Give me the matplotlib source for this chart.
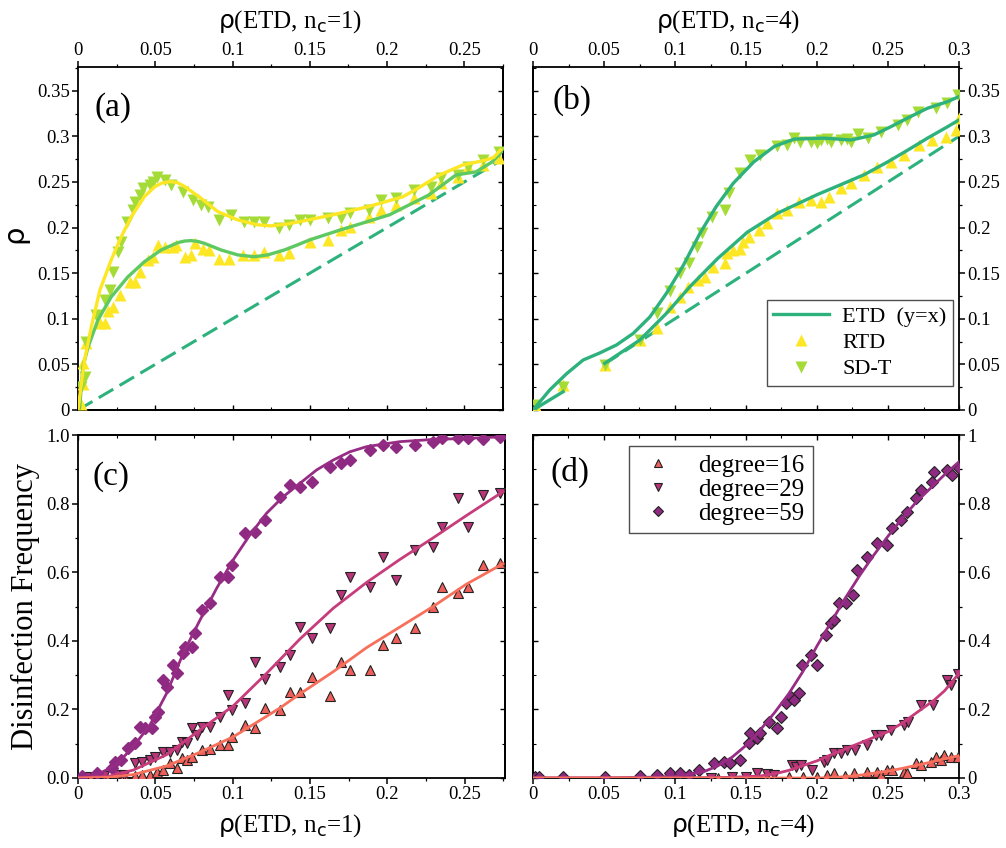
import matplotlib
matplotlib.use('Agg')
import matplotlib.pyplot as plt
from matplotlib.lines import Line2D
from matplotlib.ticker import MultipleLocator, FuncFormatter, NullFormatter

# ---------------- Panel (a): n_c = 1 ----------------
a_sdt_x = [0.0022, 0.0043, 0.0054, 0.0118, 0.0172, 0.0205, 0.0226, 0.0258, 0.028, 0.0319, 0.0355, 0.037,
           0.040, 0.042, 0.0463, 0.0485, 0.0513, 0.056, 0.0603, 0.0678, 0.0743, 0.0797, 0.084, 0.0915,
           0.099, 0.1077, 0.114, 0.1206, 0.130, 0.1367, 0.1434, 0.1498, 0.1617, 0.170, 0.176, 0.1886,
           0.196, 0.2058, 0.2176, 0.2284, 0.2348, 0.2456, 0.2521, 0.2618, 0.2726]
a_sdt_y = [0.0256, 0.0365, 0.075, 0.104, 0.1206, 0.1316, 0.1517, 0.1736, 0.1846, 0.2065, 0.219, 0.2284,
           0.2357, 0.243, 0.2467, 0.2504, 0.2558, 0.252, 0.2467, 0.2394, 0.230, 0.2248, 0.223, 0.2083,
           0.2138, 0.2065, 0.2065, 0.2065, 0.1992, 0.2028, 0.2083, 0.2083, 0.210, 0.210, 0.2156, 0.219,
           0.230, 0.232, 0.241, 0.245, 0.254, 0.2577, 0.2668, 0.274, 0.283]
a_rtd_x = [0.002, 0.0032, 0.0034, 0.0054, 0.014, 0.0172, 0.0194, 0.0226, 0.027, 0.0334, 0.0366, 0.040,
           0.045, 0.0485, 0.0517, 0.056, 0.0614, 0.0635, 0.069, 0.073, 0.0754, 0.0807, 0.085, 0.0915,
           0.098, 0.1066, 0.114, 0.1206, 0.130, 0.1367, 0.1498, 0.1617, 0.170, 0.176, 0.1886, 0.196,
           0.2058, 0.2176, 0.2284, 0.2348, 0.2456, 0.2521, 0.2618, 0.2726]
a_rtd_y = [0.007, 0.051, 0.028, 0.073, 0.095, 0.095, 0.108, 0.113, 0.126, 0.1407, 0.1407, 0.1517,
           0.1645, 0.168, 0.181, 0.179, 0.179, 0.181, 0.168, 0.170, 0.1827, 0.177, 0.1754, 0.166,
           0.166, 0.170, 0.170, 0.1736, 0.170, 0.1718, 0.1846, 0.1864, 0.197, 0.201, 0.212, 0.219,
           0.2248, 0.232, 0.2376, 0.2485, 0.2558, 0.2668, 0.2686, 0.276]
a_sdt_fit_x = [0, 0.0022, 0.0043, 0.0086, 0.0142, 0.0215, 0.028, 0.0345, 0.043, 0.0495, 0.0538, 0.0592,
               0.064, 0.069, 0.0797, 0.0904, 0.1034, 0.1163, 0.125, 0.1357, 0.148, 0.165, 0.187, 0.21,
               0.22, 0.234, 0.249, 0.264, 0.269, 0.2735]
a_sdt_fit_y = [0, 0.029, 0.055, 0.091, 0.1316, 0.1645, 0.19, 0.212, 0.234, 0.2445, 0.2485, 0.2504,
               0.2495, 0.245, 0.232, 0.2175, 0.2083, 0.203, 0.2018, 0.204, 0.208, 0.214, 0.2226, 0.2336,
               0.243, 0.2577, 0.2686, 0.274, 0.277, 0.285]
a_rtd_fit_x = [0, 0.001, 0.0032, 0.0065, 0.0129, 0.0215, 0.0323, 0.043, 0.0538, 0.0646, 0.069, 0.0732,
               0.0775, 0.0818, 0.0926, 0.1034, 0.1141, 0.1227, 0.1335, 0.142, 0.1498, 0.169, 0.2016,
               0.227, 0.2446, 0.2575, 0.268, 0.274]
a_rtd_fit_y = [0, 0.002, 0.0475, 0.069, 0.0987, 0.124, 0.146, 0.1626, 0.1754, 0.1835, 0.1852, 0.1857,
               0.1848, 0.1827, 0.1754, 0.170, 0.168, 0.170, 0.1754, 0.181, 0.1864, 0.197, 0.214,
               0.2357, 0.2577, 0.261, 0.272, 0.283]
a_etd = [0.0, 0.272]

# ---------------- Panel (b): n_c = 4 ----------------
b_sdt_x = [0.0024, 0.0214, 0.0508, 0.0755, 0.0873, 0.0967, 0.1037, 0.1096, 0.1155, 0.119, 0.126, 0.1355,
           0.1378, 0.146, 0.153, 0.16, 0.172, 0.179, 0.184, 0.188, 0.1955, 0.2, 0.2025, 0.207, 0.21,
           0.2167, 0.2214, 0.224, 0.2289, 0.236, 0.2449, 0.2567, 0.2637, 0.2708, 0.2837, 0.2919, 0.299]
b_sdt_y = [0.0055, 0.0256, 0.049, 0.0768, 0.106, 0.13, 0.15, 0.161, 0.179, 0.194, 0.212, 0.219,
           0.2376, 0.2595, 0.274, 0.2796, 0.289, 0.2906, 0.298, 0.294, 0.294, 0.2925, 0.296, 0.297, 0.294,
           0.296, 0.297, 0.2935, 0.303, 0.298, 0.305, 0.3125, 0.318, 0.327, 0.331, 0.336, 0.345]
b_rtd_x = [0.0024, 0.0212, 0.0506, 0.0753, 0.087, 0.0965, 0.1035, 0.1094, 0.1164, 0.1211, 0.127, 0.1353,
           0.1364, 0.141, 0.146, 0.148, 0.152, 0.159, 0.165, 0.172, 0.179, 0.1872, 0.1955, 0.2025,
           0.2084, 0.2167, 0.2237, 0.2331, 0.2425, 0.2519, 0.2614, 0.2719, 0.2813, 0.2907, 0.2978, 0.3]
b_rtd_y = [0.0037, 0.0274, 0.049, 0.077, 0.0895, 0.113, 0.124, 0.135, 0.1425, 0.146, 0.157, 0.161,
           0.1718, 0.1754, 0.177, 0.1846, 0.190, 0.197, 0.2047, 0.2156, 0.219, 0.2284, 0.230, 0.2284,
           0.234, 0.243, 0.2485, 0.2577, 0.2668, 0.272, 0.2796, 0.2906, 0.296, 0.2997, 0.307, 0.32]
b_sdt_fit_x = [0, 0.0118, 0.0238, 0.0353, 0.047, 0.0588, 0.0706, 0.0823, 0.094, 0.106, 0.1176, 0.129,
               0.141, 0.1555, 0.17, 0.184, 0.205, 0.2242, 0.240, 0.2522, 0.2637, 0.2778, 0.2919, 0.300]
b_sdt_fit_y = [0, 0.022, 0.040, 0.0548, 0.0625, 0.0713, 0.084, 0.102, 0.128, 0.159, 0.1937, 0.223,
               0.2485, 0.272, 0.289, 0.297, 0.298, 0.296, 0.3015, 0.3107, 0.320, 0.3308, 0.338, 0.3436]
b_rtd_fit1_x = [0, 0.0212]
b_rtd_fit1_y = [0, 0.020]
b_rtd_fit2_x = [0.0506, 0.0753, 0.094, 0.111, 0.13, 0.151, 0.172, 0.2, 0.2167, 0.2333, 0.2498, 0.2637,
                0.2778, 0.2919, 0.300]
b_rtd_fit2_y = [0.0512, 0.0768, 0.106, 0.136, 0.166, 0.195, 0.2156, 0.236, 0.247, 0.258, 0.272,
                0.2847, 0.298, 0.3105, 0.318]
b_etd = [0.05, 0.3]

# ---------------- Panel (c): n_c = 1, disinfection ----------------
c_d59_x = [0.0024, 0.012, 0.0217, 0.024, 0.028, 0.0325, 0.0368, 0.040, 0.0433, 0.0476, 0.0497, 0.0519,
           0.055, 0.0573, 0.0616, 0.0637, 0.068, 0.0691, 0.0734, 0.0756, 0.0799, 0.0853, 0.0917, 0.0971,
           0.0993, 0.1079, 0.1143, 0.1208, 0.1305, 0.137, 0.1434, 0.151, 0.1628, 0.170, 0.1757, 0.1886,
           0.1972, 0.2058, 0.2177, 0.2295, 0.235, 0.2457, 0.2522, 0.2618, 0.2726]
c_d59_y = [0.007, 0.014, 0.028, 0.048, 0.052, 0.088, 0.101, 0.15, 0.145, 0.145, 0.179, 0.193,
           0.286, 0.266, 0.329, 0.305, 0.3635, 0.383, 0.383, 0.422, 0.49, 0.509, 0.587, 0.587,
           0.621, 0.715, 0.718, 0.752, 0.820, 0.854, 0.849, 0.864, 0.908, 0.917, 0.927, 0.956,
           0.971, 0.966, 0.971, 0.981, 0.992, 0.990, 0.990, 0.987, 0.995]
c_d29_x = [0.005, 0.017, 0.025, 0.0295, 0.0368, 0.0411, 0.0465, 0.0497, 0.055, 0.0594, 0.0637, 0.067,
           0.0702, 0.0734, 0.0767, 0.0799, 0.0853, 0.0917, 0.0971, 0.0993, 0.1079, 0.1143, 0.1208, 0.1305,
           0.137, 0.1434, 0.151, 0.1628, 0.170, 0.1757, 0.1886, 0.1972, 0.2058, 0.2177, 0.2295, 0.235,
           0.2457, 0.2522, 0.2618, 0.2726]
c_d29_y = [0.004, 0.006, 0.01, 0.01, 0.0428, 0.0476, 0.0525, 0.062, 0.077, 0.077, 0.082, 0.106,
           0.101, 0.145, 0.125, 0.15, 0.15, 0.179, 0.242, 0.198, 0.218, 0.339, 0.29, 0.325,
           0.359, 0.441, 0.407, 0.436, 0.534, 0.587, 0.558, 0.645, 0.577, 0.665, 0.674, 0.733,
           0.815, 0.733, 0.825, 0.832]
c_d16_x = [0.008, 0.018, 0.03, 0.037, 0.0411, 0.0465, 0.0508, 0.055, 0.0594, 0.0637, 0.067, 0.0702,
           0.0734, 0.0799, 0.0853, 0.0917, 0.0971, 0.0993, 0.1079, 0.1143, 0.1208, 0.1305, 0.137, 0.1434,
           0.151, 0.1628, 0.170, 0.1757, 0.1886, 0.1972, 0.2058, 0.2177, 0.2295, 0.235, 0.2457, 0.2522,
           0.2618, 0.2726]
c_d16_y = [0.003, 0.003, 0.005, 0.006, 0.008, 0.009, 0.018, 0.023, 0.043, 0.028, 0.057, 0.052,
           0.062, 0.082, 0.086, 0.096, 0.096, 0.12, 0.1545, 0.145, 0.203, 0.198, 0.252, 0.252,
           0.295, 0.239, 0.339, 0.315, 0.315, 0.388, 0.407, 0.436, 0.5, 0.558, 0.538, 0.558,
           0.621, 0.626]
c_d59_fit_x = [0, 0.0142, 0.025, 0.0357, 0.0465, 0.0573, 0.068, 0.0788, 0.0896, 0.1003, 0.111, 0.1219,
               0.1326, 0.1434, 0.1542, 0.165, 0.1757, 0.1865, 0.208, 0.2295, 0.251, 0.2748]
c_d59_fit_y = [0, 0.0136, 0.04, 0.091, 0.1545, 0.247, 0.3635, 0.46, 0.553, 0.636, 0.708, 0.772,
               0.820, 0.859, 0.898, 0.927, 0.951, 0.966, 0.9806, 0.987, 0.990, 0.995]
c_d29_fit_x = [0, 0.02, 0.0357, 0.0573, 0.0788, 0.1003, 0.1219, 0.1434, 0.165, 0.1865, 0.208, 0.2295,
               0.251, 0.2748]
c_d29_fit_y = [0, 0.005, 0.023, 0.068, 0.14, 0.21, 0.305, 0.405, 0.495, 0.57, 0.637, 0.70, 0.765, 0.835]
c_d16_fit_x = [0, 0.02, 0.0357, 0.0573, 0.0788, 0.1003, 0.1219, 0.1305, 0.1434, 0.165, 0.1865, 0.208,
               0.2295, 0.251, 0.2748]
c_d16_fit_y = [0, 0.002, 0.01, 0.035, 0.075, 0.12, 0.18, 0.204, 0.245, 0.31, 0.38, 0.44, 0.50, 0.565, 0.625]

# ---------------- Panel (d): n_c = 4, disinfection ----------------
d_d59_x = [0.0014, 0.004, 0.0214, 0.0508, 0.0755, 0.0873, 0.0967, 0.1037, 0.1096, 0.1167, 0.1273, 0.1343,
           0.139, 0.146, 0.152, 0.1531, 0.1578, 0.16, 0.166, 0.172, 0.1743, 0.178, 0.1814, 0.1837,
           0.1872, 0.1896, 0.1955, 0.2002, 0.206, 0.2096, 0.212, 0.2155, 0.2202, 0.225, 0.2284, 0.2355,
           0.2425, 0.2496, 0.2531, 0.259, 0.2637, 0.2696, 0.2731, 0.2813, 0.2825, 0.2919, 0.2954, 0.3]
d_d59_y = [0.004, 0.002, 0.003, 0.003, 0.006, 0.009, 0.0136, 0.0155, 0.01, 0.023, 0.043, 0.048,
           0.043, 0.0525, 0.101, 0.130, 0.1156, 0.13, 0.164, 0.145, 0.179, 0.218, 0.237, 0.227,
           0.247, 0.329, 0.359, 0.329, 0.417, 0.451, 0.461, 0.509, 0.509, 0.534, 0.606, 0.645,
           0.684, 0.679, 0.728, 0.752, 0.776, 0.815, 0.840, 0.864, 0.893, 0.898, 0.883, 0.903]
d_d29_x = [0.125, 0.14, 0.15, 0.158, 0.165, 0.17, 0.1826, 0.1849, 0.1884, 0.1967, 0.2049, 0.2068, 0.212,
           0.2167, 0.2214, 0.227, 0.2355, 0.2414, 0.245, 0.252, 0.2614, 0.2638, 0.273, 0.2814, 0.2919,
           0.2943, 0.299]
d_d29_y = [0.001, 0.002, 0.004, 0.0136, 0.012, 0.01, 0.038, 0.033, 0.038, 0.023, 0.048, 0.0525, 0.072,
           0.072, 0.082, 0.082, 0.096, 0.125, 0.125, 0.14, 0.1545, 0.164, 0.213, 0.213, 0.286,
           0.27, 0.303]
d_d16_x = [0.13, 0.15, 0.165, 0.18, 0.19, 0.2, 0.207, 0.212, 0.22, 0.226, 0.2355, 0.2425, 0.2449, 0.2496,
           0.253, 0.2613, 0.2637, 0.2696, 0.2731, 0.2802, 0.2837, 0.2872, 0.2896, 0.2943, 0.299]
d_d16_y = [0.001, 0.001, 0.002, 0.003, 0.004, 0.003, 0.009, 0.0136, 0.005, 0.0136, 0.018, 0.018, 0.009,
           0.023, 0.023, 0.018, 0.0136, 0.043, 0.038, 0.048, 0.062, 0.052, 0.067, 0.062, 0.062]
d_d59_fit_x = [0, 0.05, 0.08, 0.1, 0.12, 0.13, 0.14, 0.15, 0.16, 0.17, 0.18, 0.19, 0.2, 0.21, 0.22,
               0.23, 0.24, 0.25, 0.26, 0.27, 0.28, 0.29, 0.3]
d_d59_fit_y = [0, 0.0, 0.002, 0.005, 0.018, 0.035, 0.06, 0.095, 0.14, 0.19, 0.245, 0.31, 0.385, 0.455,
               0.525, 0.59, 0.65, 0.705, 0.757, 0.805, 0.845, 0.885, 0.922]
d_d29_fit_x = [0, 0.1, 0.14, 0.16, 0.17, 0.18, 0.19, 0.2, 0.21, 0.22, 0.235, 0.25, 0.26, 0.27, 0.2825,
               0.29, 0.3]
d_d29_fit_y = [0, 0, 0.002, 0.006, 0.012, 0.022, 0.036, 0.05, 0.068, 0.085, 0.11, 0.135, 0.16, 0.19,
               0.227, 0.255, 0.305]
d_d16_fit_x = [0, 0.2, 0.21, 0.22, 0.23, 0.24, 0.25, 0.26, 0.27, 0.28, 0.29, 0.3]
d_d16_fit_y = [0, 0.0, 0.001, 0.004, 0.008, 0.014, 0.02, 0.028, 0.037, 0.046, 0.056, 0.065]

# ---------------- styles ----------------
C_RTD = '#FDE725'
C_SDT = '#A5DB36'
C_FIT_SDT_A = '#FDE725'
C_FIT_RTD_A = '#5EC962'
C_ETD = '#2DB27D'
C_D16 = '#EE5F5B'
C_D29 = '#B8357A'
C_D59 = '#8E2A82'
C_L16 = '#F7705C'
C_L29 = '#C73C7B'
C_L59 = '#962C84'

plt.rcParams['font.family'] = ['Liberation Serif', 'DejaVu Sans']
plt.rcParams['mathtext.fontset'] = 'dejavusans'

W, H = 1006, 848
fig = plt.figure(figsize=(W / 100, H / 100), dpi=100)


def box(l, t, r, b):
    return [l / W, 1 - b / H, (r - l) / W, (b - t) / H]


axA = fig.add_axes(box(78, 67, 503, 410))
axB = fig.add_axes(box(533, 67, 959, 410))
axC = fig.add_axes(box(78, 435, 505, 778))
axD = fig.add_axes(box(533, 435, 959, 778))

fmt_g = FuncFormatter(lambda v, p: '0' if abs(v) < 1e-9 else ('%g' % round(v, 4)))
fmt_1 = FuncFormatter(lambda v, p: '%.1f' % v)


def style(ax, xlim, ylim, xmaj, xmin, ymaj, ymin, xside, yside, yfmt):
    ax.set_xlim(*xlim)
    ax.set_ylim(*ylim)
    for sp in ax.spines.values():
        sp.set_linewidth(1.3)
    ax.xaxis.set_major_locator(MultipleLocator(xmaj))
    ax.xaxis.set_minor_locator(MultipleLocator(xmin))
    ax.yaxis.set_major_locator(MultipleLocator(ymaj))
    ax.yaxis.set_minor_locator(MultipleLocator(ymin))
    ax.xaxis.set_major_formatter(fmt_g)
    ax.yaxis.set_major_formatter(yfmt)
    if xside == 'top':
        ax.xaxis.tick_top()
    else:
        ax.xaxis.tick_bottom()
    if yside == 'right':
        ax.yaxis.tick_right()
    else:
        ax.yaxis.tick_left()
    ax.tick_params(which='major', direction='out', length=4, width=1.1, labelsize=13.5, pad=2)
    ax.tick_params(which='minor', direction='out', length=2.5, width=0.9)
    ox = 'bottom' if xside == 'top' else 'top'
    oy = 'left' if yside == 'right' else 'right'
    sx = ax.secondary_xaxis(ox)
    sx.xaxis.set_major_locator(MultipleLocator(xmaj))
    sx.xaxis.set_minor_locator(MultipleLocator(xmin))
    sx.xaxis.set_major_formatter(NullFormatter())
    sx.tick_params(which='major', direction='in', length=3.5, width=1.0)
    sx.tick_params(which='minor', direction='in', length=2.2, width=0.8)
    sx.spines[ox].set_linewidth(1.3)
    sy = ax.secondary_yaxis(oy)
    sy.yaxis.set_major_locator(MultipleLocator(ymaj))
    sy.yaxis.set_minor_locator(MultipleLocator(ymin))
    sy.yaxis.set_major_formatter(NullFormatter())
    sy.tick_params(which='major', direction='in', length=3.5, width=1.0)
    sy.tick_params(which='minor', direction='in', length=2.2, width=0.8)
    sy.spines[oy].set_linewidth(1.3)


style(axA, (0, 0.275), (0, 0.376), 0.05, 0.025, 0.05, 0.025, 'top', 'left', fmt_g)
style(axB, (0, 0.3), (0, 0.376), 0.05, 0.025, 0.05, 0.025, 'top', 'right', fmt_g)
style(axC, (0, 0.276), (0, 1.0), 0.05, 0.025, 0.2, 0.1, 'bottom', 'left', fmt_1)
style(axD, (0, 0.3), (0, 1.0), 0.05, 0.025, 0.2, 0.1, 'bottom', 'right', fmt_g)

dash = (0, (5.5, 2.4))
ms_ab = 8

# ---- (a)
axA.plot(a_etd, a_etd, color=C_ETD, lw=2.2, ls=dash, zorder=2)
axA.plot(a_rtd_x, a_rtd_y, ls='none', marker='^', ms=ms_ab, color=C_RTD, mec='none', zorder=3)
axA.plot(a_sdt_x, a_sdt_y, ls='none', marker='v', ms=ms_ab, color=C_SDT, mec='none', zorder=3)
axA.plot(a_rtd_fit_x, a_rtd_fit_y, color=C_FIT_RTD_A, lw=2.4, zorder=4, solid_joinstyle='round')
axA.plot(a_sdt_fit_x, a_sdt_fit_y, color=C_FIT_SDT_A, lw=2.4, zorder=4, solid_joinstyle='round')

# ---- (b)
axB.plot(b_etd, b_etd, color=C_ETD, lw=2.2, ls=dash, zorder=2)
axB.plot(b_rtd_x, b_rtd_y, ls='none', marker='^', ms=ms_ab, color=C_RTD, mec='none', zorder=3)
axB.plot(b_sdt_x, b_sdt_y, ls='none', marker='v', ms=ms_ab, color=C_SDT, mec='none', zorder=3)
axB.plot(b_rtd_fit1_x, b_rtd_fit1_y, color=C_ETD, lw=2.4, zorder=4)
axB.plot(b_rtd_fit2_x, b_rtd_fit2_y, color=C_ETD, lw=2.4, zorder=4, solid_joinstyle='round')
axB.plot(b_sdt_fit_x, b_sdt_fit_y, color=C_ETD, lw=2.4, zorder=4, solid_joinstyle='round')

legB = [Line2D([], [], color=C_ETD, lw=2.4, label='ETD  (y=x)'),
        Line2D([], [], ls='none', marker='^', ms=ms_ab, color=C_RTD, mec='none', label='RTD'),
        Line2D([], [], ls='none', marker='v', ms=ms_ab, color=C_SDT, mec='none', label='SD-T')]
lg = axB.legend(handles=legB, loc='lower right', bbox_to_anchor=(0.986, 0.07), borderaxespad=0,
                fancybox=False, frameon=True, edgecolor='#222222', fontsize=16, handlelength=2.5,
                handletextpad=0.6, labelspacing=0.25, borderpad=0.3)
lg.get_frame().set_linewidth(1.0)

# ---- (c) and (d)
mk = dict(ls='none', mec='#222222', mew=0.8, zorder=3)
axC.plot(c_d59_fit_x, c_d59_fit_y, color=C_L59, lw=2.0, zorder=4, solid_joinstyle='round')
axC.plot(c_d29_fit_x, c_d29_fit_y, color=C_L29, lw=2.0, zorder=4, solid_joinstyle='round')
axC.plot(c_d16_fit_x, c_d16_fit_y, color=C_L16, lw=2.0, zorder=4, solid_joinstyle='round')
axC.plot(c_d16_x, c_d16_y, marker='^', ms=7, color=C_D16, **mk)
axC.plot(c_d29_x, c_d29_y, marker='v', ms=7, color=C_D29, **mk)
axC.plot(c_d59_x, c_d59_y, marker='D', ms=6, color=C_D59, mec=C_D59, ls='none', zorder=3)

axD.plot(d_d59_fit_x, d_d59_fit_y, color=C_L59, lw=2.0, zorder=4, solid_joinstyle='round')
axD.plot(d_d29_fit_x, d_d29_fit_y, color=C_L29, lw=2.0, zorder=4, solid_joinstyle='round')
axD.plot(d_d16_fit_x, d_d16_fit_y, color=C_L16, lw=2.0, zorder=4, solid_joinstyle='round')
axD.plot(d_d16_x, d_d16_y, marker='^', ms=7, color=C_D16, **mk)
axD.plot(d_d29_x, d_d29_y, marker='v', ms=7, color=C_D29, **mk)
axD.plot(d_d59_x, d_d59_y, marker='D', ms=6, color=C_D59, **mk)

legD = [Line2D([], [], marker='^', ms=6, color=C_D16, mec='#222222', mew=0.8, ls='none', label='degree=16'),
        Line2D([], [], marker='v', ms=6, color=C_D29, mec='#222222', mew=0.8, ls='none', label='degree=29'),
        Line2D([], [], marker='D', ms=5.5, color=C_D59, mec='#222222', mew=0.8, ls='none', label='degree=59')]
lg2 = axD.legend(handles=legD, loc='upper left', bbox_to_anchor=(0.226, 0.968), borderaxespad=0,
                 fancybox=False, frameon=True, edgecolor='#222222', fontsize=18, handlelength=1.6,
                 handletextpad=0.8, labelspacing=0.05, borderpad=0.35)
lg2.get_frame().set_linewidth(1.0)

# ---- panel letters
for ax, lab, x, y in [(axA, '(a)', 0.038, 0.883), (axB, '(b)', 0.045, 0.904),
                      (axC, '(c)', 0.035, 0.880), (axD, '(d)', 0.040, 0.892)]:
    ax.text(x, y, lab, transform=ax.transAxes, ha='left', va='center', fontsize=24)

# ---- axis labels
RHO = r'$\mathrm{\rho}$'
fig.text(290 / W, 1 - 28 / H, RHO + r'(ETD, n$_{\mathrm{c}}$=1)', ha='center', va='baseline', fontsize=18)
fig.text(728 / W, 1 - 28 / H, RHO + r'(ETD, n$_{\mathrm{c}}$=4)', ha='center', va='baseline', fontsize=18)
fig.text(290 / W, 1 - 832 / H, RHO + r'(ETD, n$_{\mathrm{c}}$=1)', ha='center', va='baseline', fontsize=18)
fig.text(743 / W, 1 - 832 / H, RHO + r'(ETD, n$_{\mathrm{c}}$=4)', ha='center', va='baseline', fontsize=18)
fig.text(20 / W, 1 - 237 / H, RHO, ha='center', va='center', rotation=90, fontsize=21)
fig.text(25 / W, 1 - 607 / H, 'Disinfection Frequency', ha='center', va='center', rotation=90, fontsize=22)

fig.savefig('out.png', dpi=100)
